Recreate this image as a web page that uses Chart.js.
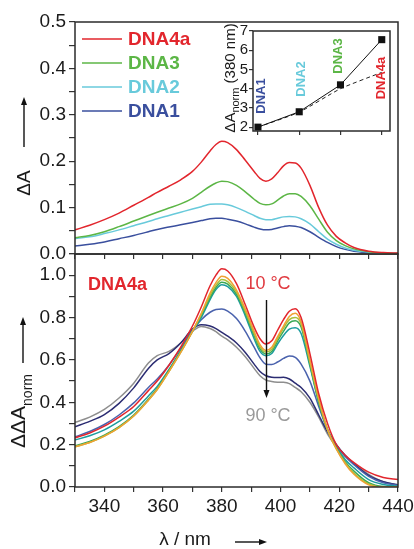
<!DOCTYPE html>
<html>
<head>
<meta charset="utf-8">
<script src="https://cdn.jsdelivr.net/npm/chart.js@4.4.0/dist/chart.umd.min.js"></script>
<style>
  html, body { margin: 0; padding: 0; background: #fff; }
  #wrap { position: relative; width: 414px; height: 549px; overflow: hidden; }
  canvas { position: absolute; }
</style>
</head>
<body>
<div id="wrap">
  <canvas id="bot" style="left:0;top:250px" width="414" height="299"></canvas>
  <canvas id="top" style="left:0;top:0" width="414" height="264"></canvas>
  <canvas id="ins" style="left:200px;top:0" width="214" height="150"></canvas>
</div>
<script>
// wavelengths (nm), shared by every spectrum
const lam = [330,335,340,345,350,355,358,362,366,370,373,376,378,380,382,385,388,391,393,395,397,399,401,403,405,407,410,413,416,419,422,425,430,435,440]

// top panel, dA
const topDNA4a = [0.052,0.062,0.074,0.088,0.105,0.122,0.133,0.146,0.160,0.178,0.198,0.222,0.236,0.243,0.240,0.225,0.202,0.178,0.163,0.157,0.162,0.175,0.190,0.197,0.196,0.185,0.148,0.100,0.062,0.038,0.024,0.014,0.006,0.003,0.002]
const topDNA3 = [0.035,0.040,0.048,0.059,0.071,0.083,0.090,0.099,0.108,0.120,0.133,0.146,0.153,0.157,0.156,0.148,0.134,0.118,0.109,0.106,0.108,0.116,0.125,0.130,0.130,0.124,0.104,0.075,0.047,0.029,0.018,0.011,0.005,0.002,0.001]
const topDNA2 = [0.033,0.037,0.044,0.052,0.061,0.070,0.076,0.083,0.090,0.097,0.102,0.107,0.108,0.108,0.106,0.100,0.092,0.083,0.077,0.074,0.074,0.077,0.080,0.081,0.080,0.076,0.065,0.048,0.032,0.021,0.013,0.008,0.004,0.002,0.001]
const topDNA1 = [0.017,0.021,0.026,0.033,0.040,0.048,0.053,0.058,0.063,0.068,0.072,0.076,0.077,0.077,0.075,0.071,0.065,0.058,0.054,0.052,0.053,0.056,0.059,0.061,0.060,0.057,0.048,0.036,0.025,0.016,0.010,0.006,0.003,0.001,0.001]

// bottom panel, DNA4a normalised, 10 °C (first) to 90 °C (last)
const melt1 = [0.232,0.255,0.287,0.330,0.380,0.455,0.500,0.575,0.660,0.760,0.850,0.950,1.000,1.030,1.020,0.960,0.860,0.755,0.700,0.675,0.690,0.740,0.790,0.830,0.842,0.800,0.630,0.440,0.300,0.200,0.150,0.115,0.070,0.045,0.035]
const melt2 = [0.190,0.210,0.240,0.280,0.335,0.410,0.460,0.545,0.635,0.735,0.820,0.915,0.965,0.995,0.985,0.930,0.840,0.735,0.672,0.645,0.660,0.710,0.760,0.805,0.820,0.780,0.600,0.420,0.270,0.180,0.110,0.060,0.010,0.000,0.000]
const melt3 = [0.190,0.210,0.240,0.280,0.335,0.410,0.460,0.545,0.635,0.735,0.815,0.905,0.952,0.980,0.970,0.920,0.830,0.725,0.662,0.637,0.650,0.700,0.750,0.790,0.800,0.770,0.590,0.410,0.270,0.180,0.115,0.065,0.015,0.000,0.000]
const melt4 = [0.195,0.215,0.245,0.285,0.340,0.415,0.465,0.550,0.640,0.735,0.810,0.895,0.942,0.967,0.958,0.910,0.820,0.715,0.652,0.628,0.640,0.690,0.735,0.775,0.785,0.755,0.580,0.400,0.270,0.185,0.120,0.075,0.020,0.002,0.000]
const melt5 = [0.222,0.242,0.270,0.310,0.358,0.430,0.475,0.555,0.645,0.735,0.800,0.885,0.932,0.955,0.946,0.900,0.808,0.700,0.640,0.620,0.630,0.675,0.715,0.745,0.752,0.725,0.570,0.400,0.270,0.190,0.130,0.090,0.035,0.012,0.003]
const melt6 = [0.237,0.262,0.295,0.340,0.397,0.470,0.510,0.575,0.655,0.740,0.790,0.825,0.838,0.840,0.830,0.795,0.735,0.660,0.610,0.580,0.578,0.590,0.607,0.618,0.612,0.580,0.500,0.380,0.270,0.200,0.145,0.105,0.050,0.020,0.008]
const melt7 = [0.284,0.310,0.342,0.395,0.468,0.560,0.600,0.630,0.680,0.745,0.766,0.760,0.748,0.730,0.712,0.680,0.635,0.580,0.545,0.525,0.518,0.517,0.518,0.510,0.490,0.470,0.420,0.340,0.260,0.200,0.150,0.110,0.055,0.025,0.010]
const melt8 = [0.305,0.330,0.366,0.420,0.490,0.585,0.620,0.640,0.680,0.735,0.758,0.748,0.733,0.712,0.695,0.660,0.615,0.560,0.525,0.505,0.498,0.495,0.494,0.488,0.470,0.450,0.400,0.330,0.250,0.190,0.145,0.110,0.060,0.025,0.010]

// inset
const insetCats = ["DNA1", "DNA2", "DNA3", "DNA4a"]
const insetMeasured = [2.0, 2.8, 4.2, 6.55]
const insetExpected = [2.0, 2.78, 4.0, 4.85]
const insetYTicks = [2, 3, 4, 5, 6, 7]

const RED = "#e2262d", GREEN = "#5cb646", CYAN = "#68cadb", BLUE = "#3a4f9e"
const meltColors = ["#e2262d", "#f0a133", "#a9bf3a", "#3aa856", "#1b9c9f", "#4a62ad", "#2b2c72", "#8e8e8e"]

Chart.defaults.font.family = '"Liberation Sans", Arial, sans-serif'
Chart.defaults.color = "#1a1a1a"

let pts = (ys) => lam.map((x, i) => ({ x: x, y: ys[i] }))

let fixAxis = (size) => (scale) => {
  if (scale.isHorizontal()) scale.height = size
  else scale.width = size
  scale.paddingLeft = 0
  scale.paddingRight = 0
  scale.paddingTop = 0
  scale.paddingBottom = 0
}

let gridOpts = (len) => ({
  display: true, drawOnChartArea: false, drawTicks: true,
  tickLength: len, color: "#333", lineWidth: 1.2
})

let frame = {
  id: "frame",
  afterDraw(chart) {
    const ca = chart.chartArea, ctx = chart.ctx
    ctx.save()
    ctx.strokeStyle = "#2b2b2b"
    ctx.lineWidth = 1.5
    ctx.strokeRect(ca.left, ca.top, ca.right - ca.left, ca.bottom - ca.top)
    ctx.restore()
  }
}

// rotated text, reading bottom to top, centred on (x, y)
let rotText = (ctx, x, y, parts, color) => {
  ctx.save()
  ctx.translate(x, y)
  ctx.rotate(-Math.PI / 2)
  ctx.fillStyle = color
  ctx.textBaseline = "middle"
  ctx.textAlign = "left"
  let total = 0
  parts.forEach(p => { ctx.font = p[1]; total += ctx.measureText(p[0]).width })
  let cx = -total / 2
  parts.forEach(p => {
    ctx.font = p[1]
    ctx.fillText(p[0], cx, p[2])
    cx += ctx.measureText(p[0]).width
  })
  ctx.restore()
}

let arrow = (ctx, x1, y1, x2, y2) => {
  const a = Math.atan2(y2 - y1, x2 - x1)
  ctx.save()
  ctx.strokeStyle = "#111"
  ctx.fillStyle = "#111"
  ctx.lineWidth = 1.4
  ctx.beginPath()
  ctx.moveTo(x1, y1)
  ctx.lineTo(x2 - 6 * Math.cos(a), y2 - 6 * Math.sin(a))
  ctx.stroke()
  ctx.beginPath()
  ctx.moveTo(x2, y2)
  ctx.lineTo(x2 - 8 * Math.cos(a) + 3 * Math.sin(a), y2 - 8 * Math.sin(a) - 3 * Math.cos(a))
  ctx.lineTo(x2 - 8 * Math.cos(a) - 3 * Math.sin(a), y2 - 8 * Math.sin(a) + 3 * Math.cos(a))
  ctx.closePath()
  ctx.fill()
  ctx.restore()
}

let lineDs = (label, ys, color) => ({
  label: label, data: pts(ys), borderColor: color, borderWidth: 1.5,
  pointRadius: 0, fill: false, cubicInterpolationMode: "monotone"
})

// ---------- top panel ----------
let topLegend = {
  id: "topLegend",
  afterDraw(chart) {
    const ctx = chart.ctx
    const rows = [["DNA4a", RED, 39], ["DNA3", GREEN, 63], ["DNA2", CYAN, 87], ["DNA1", BLUE, 111]]
    ctx.save()
    rows.forEach(r => {
      ctx.strokeStyle = r[1]
      ctx.lineWidth = 1.6
      ctx.beginPath()
      ctx.moveTo(82, r[2])
      ctx.lineTo(122, r[2])
      ctx.stroke()
      ctx.fillStyle = r[1]
      ctx.font = "bold 19px 'Liberation Sans', Arial, sans-serif"
      ctx.textBaseline = "middle"
      ctx.fillText(r[0], 128, r[2] + 1)
    })
    rotText(ctx, 25, 183, [["\u0394A", "19px 'Liberation Sans', Arial", 0]], "#1a1a1a")
    arrow(ctx, 24, 147, 24, 97)
    ctx.restore()
  }
}

new Chart(document.getElementById("top"), {
  type: "line",
  data: {
    datasets: [
      lineDs("DNA4a", topDNA4a, RED),
      lineDs("DNA3", topDNA3, GREEN),
      lineDs("DNA2", topDNA2, CYAN),
      lineDs("DNA1", topDNA1, BLUE)
    ]
  },
  options: {
    responsive: false, animation: false, devicePixelRatio: 1,
    layout: { padding: { top: 22, right: 16, left: 0, bottom: 0 } },
    plugins: { legend: { display: false }, tooltip: { enabled: false } },
    scales: {
      x: {
        type: "linear", min: 330, max: 440,
        ticks: { stepSize: 10, display: false },
        grid: gridOpts(5), border: { display: false },
        afterFit: fixAxis(10)
      },
      y: {
        min: 0, max: 0.5,
        ticks: {
          stepSize: 0.05, padding: 3, font: { size: 19 }, autoSkip: false,
          callback: v => Math.round(v * 100) % 10 === 0 ? v.toFixed(1) : ""
        },
        grid: gridOpts(6), border: { display: false },
        afterFit: fixAxis(75)
      }
    }
  },
  plugins: [frame, topLegend]
})

// ---------- bottom panel ----------
let botNotes = {
  id: "botNotes",
  afterDraw(chart) {
    const ctx = chart.ctx
    const o = 250
    ctx.save()
    ctx.textBaseline = "middle"
    ctx.fillStyle = RED
    ctx.font = "bold 18px 'Liberation Sans', Arial, sans-serif"
    ctx.textAlign = "left"
    ctx.fillText("DNA4a", 88, 285 - o)
    ctx.textAlign = "center"
    ctx.font = "18px 'Liberation Sans', Arial, sans-serif"
    ctx.fillStyle = "#e0393f"
    ctx.fillText("10 \u00B0C", 268, 284 - o)
    ctx.fillStyle = "#9a9a9a"
    ctx.fillText("90 \u00B0C", 268, 416 - o)
    arrow(ctx, 266.5, 300 - o, 266.5, 398 - o)
    ctx.fillStyle = "#1a1a1a"
    ctx.font = "19px 'Liberation Sans', Arial, sans-serif"
    ctx.fillText("\u03BB / nm", 185, 540 - o)
    arrow(ctx, 235, 542 - o, 267, 542 - o)
    rotText(ctx, 19, 411 - o, [
      ["\u0394\u0394A", "21px 'Liberation Sans', Arial", 0],
      ["norm", "14px 'Liberation Sans', Arial", 9]
    ], "#1a1a1a")
    arrow(ctx, 23, 363 - o, 23, 317 - o)
    ctx.restore()
  }
}

new Chart(document.getElementById("bot"), {
  type: "line",
  data: {
    datasets: [melt1, melt2, melt3, melt4, melt5, melt6, melt7, melt8].map((m, i) => lineDs("melt" + (i + 1), m, meltColors[i]))
  },
  options: {
    responsive: false, animation: false, devicePixelRatio: 1,
    layout: { padding: { top: 4, right: 16, left: 0, bottom: 0 } },
    plugins: { legend: { display: false }, tooltip: { enabled: false } },
    scales: {
      x: {
        type: "linear", min: 330, max: 440,
        ticks: {
          stepSize: 10, autoSkip: false, maxRotation: 0, padding: 3, font: { size: 19 },
          callback: v => v % 20 === 0 ? v : ""
        },
        grid: gridOpts(5), border: { display: false },
        afterFit: fixAxis(62)
      },
      y: {
        min: 0, max: 1.1,
        ticks: {
          stepSize: 0.1, padding: 3, font: { size: 19 }, autoSkip: false,
          callback: v => Math.round(v * 10) % 2 === 0 ? v.toFixed(1) : ""
        },
        grid: gridOpts(6), border: { display: false },
        afterFit: fixAxis(75)
      }
    }
  },
  plugins: [frame, botNotes]
})

// ---------- inset ----------
let insetNotes = {
  id: "insetNotes",
  afterDraw(chart) {
    const ctx = chart.ctx
    const xs = chart.scales.x
    const cols = [BLUE, CYAN, GREEN, RED]
    const ys = [96, 79, 56, 78]
    const dx = [3, 2, -2, 0]
    insetCats.forEach((c, i) => {
      rotText(ctx, xs.getPixelForValue(i + 1) + dx[i], ys[i], [[c, "bold 13px 'Liberation Sans', Arial", 0]], cols[i])
    })
    rotText(ctx, 31, 78, [
      ["\u0394A", "15px 'Liberation Sans', Arial", 0],
      ["norm", "11px 'Liberation Sans', Arial", 5],
      [" (380 nm)", "15px 'Liberation Sans', Arial", 0]
    ], "#1a1a1a")
  }
}

new Chart(document.getElementById("ins"), {
  type: "line",
  data: {
    datasets: [
      {
        label: "measured", data: insetMeasured.map((v, i) => ({ x: i + 1, y: v })),
        borderColor: "#111", borderWidth: 1, pointStyle: "rect", pointRadius: 5,
        pointBackgroundColor: "#111", pointBorderWidth: 0
      },
      {
        label: "expected", data: insetExpected.map((v, i) => ({ x: i + 1, y: v })),
        borderColor: "#222", borderWidth: 1, borderDash: [4, 3], pointRadius: 0, tension: 0.2
      }
    ]
  },
  options: {
    responsive: false, animation: false, devicePixelRatio: 1,
    layout: { padding: { top: 31, right: 24, left: 0, bottom: 0 } },
    plugins: { legend: { display: false }, tooltip: { enabled: false } },
    scales: {
      x: {
        type: "linear", min: 0.88, max: 4.2,
        afterBuildTicks: s => { s.ticks = insetCats.map((c, i) => ({ value: i + 1 })) },
        ticks: { display: false },
        grid: gridOpts(4), border: { display: false },
        afterFit: fixAxis(19)
      },
      y: {
        min: 1.8, max: 7,
        afterBuildTicks: s => { s.ticks = insetYTicks.map(v => ({ value: v })) },
        ticks: { padding: 1, font: { size: 15 }, autoSkip: false },
        grid: gridOpts(4), border: { display: false },
        afterFit: fixAxis(53)
      }
    }
  },
  plugins: [frame, insetNotes]
})
</script>
</body>
</html>
